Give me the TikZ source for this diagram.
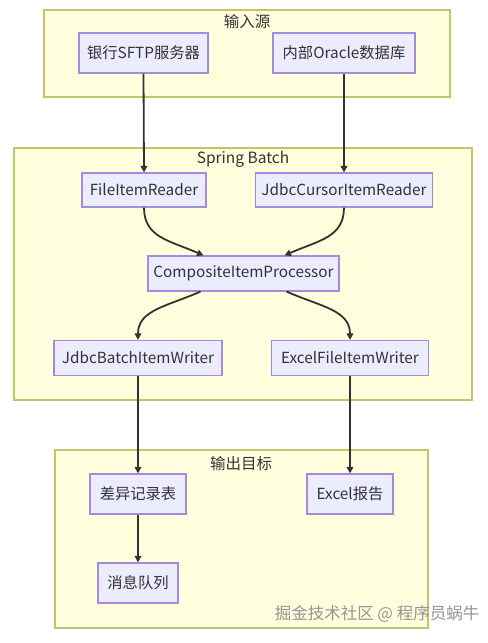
\documentclass[tikz,border=0pt]{standalone}
\usepackage{fontspec}
\setmainfont{Noto Sans CJK SC}
\usetikzlibrary{arrows.meta,calc}
\definecolor{clfill}{HTML}{FFFFDE}
\definecolor{cldraw}{HTML}{C4C46A}
\definecolor{ndfill}{HTML}{ECECFF}
\definecolor{nddraw}{HTML}{A48BE0}
\definecolor{txt}{HTML}{333333}
\definecolor{wm}{HTML}{959595}
\begin{document}
\begin{tikzpicture}[x=1bp,y=-1bp,
  cluster/.style={draw=cldraw,fill=clfill,line width=1.2bp},
  ctitle/.style={text=txt,font=\fontsize{15.5bp}{18bp}\selectfont,inner sep=0},
  box/.style={draw=nddraw,fill=ndfill,line width=1.1bp,text=txt,
    font=\fontsize{15.3bp}{18bp}\selectfont,inner sep=0,anchor=center},
  flow/.style={draw=txt,line width=1.8bp,-{Triangle[length=6.5bp,width=6.5bp]}}]
\useasboundingbox (0,0) rectangle (488,643);
% clusters
\draw[cluster] (44,10) rectangle (450,97);
\node[ctitle] (t1) at (247,22) {输入源};
\draw[cluster] (14,148) rectangle (472,400);
\node[ctitle] (t2) at (243,159) {Spring Batch};
\draw[cluster] (55,450) rectangle (428,628);
\node[ctitle] (t3) at (241,464) {输出目标};
% nodes
\node[box,minimum width=129bp,minimum height=40bp] (sftp) at (143.5,53) {银行SFTP服务器};
\node[box,minimum width=142bp,minimum height=40bp] (ora) at (344,53) {内部Oracle数据库};
\node[box,minimum width=124bp,minimum height=34bp] (fir) at (144,190) {FileItemReader};
\node[box,minimum width=177bp,minimum height=34bp] (jcir) at (344,190) {JdbcCursorItemReader};
\node[box,minimum width=191bp,minimum height=35bp] (cip) at (243.5,273.5) {CompositeItemProcessor};
\node[box,minimum width=168bp,minimum height=35bp] (jbiw) at (138,358) {JdbcBatchItemWriter};
\node[box,minimum width=157bp,minimum height=35bp] (efiw) at (350,358) {ExcelFileItemWriter};
\node[box,minimum width=96bp,minimum height=40bp] (diff) at (138,494) {差异记录表};
\node[box,minimum width=86bp,minimum height=40bp] (xls) at (350,494) {Excel报告};
\node[box,minimum width=80bp,minimum height=40bp] (mq) at (138,583) {消息队列};
% edges
\draw[flow] (sftp.south) -- (fir.north);
\draw[flow] (ora.south) -- (jcir.north);
\draw[flow] (fir.south) .. controls +(0,30) and +(-34,-15) .. ($(cip.north)+(-40,0)$);
\draw[flow] (jcir.south) .. controls +(0,30) and +(34,-15) .. ($(cip.north)+(41,0)$);
\draw[flow] ($(cip.south)+(-43,0)$) .. controls +(-34,15) and +(0,-30) .. (jbiw.north);
\draw[flow] ($(cip.south)+(43,0)$) .. controls +(34,15) and +(0,-30) .. (efiw.north);
\draw[flow] (jbiw.south) -- (diff.north);
\draw[flow] (efiw.south) -- (xls.north);
\draw[flow] (diff.south) -- (mq.north);
% watermark
\node[text=wm,font=\fontsize{16.5bp}{18bp}\selectfont,inner sep=0] (wmk) at (377,614) {掘金技术社区 @ 程序员蜗牛};
\end{tikzpicture}
\end{document}
